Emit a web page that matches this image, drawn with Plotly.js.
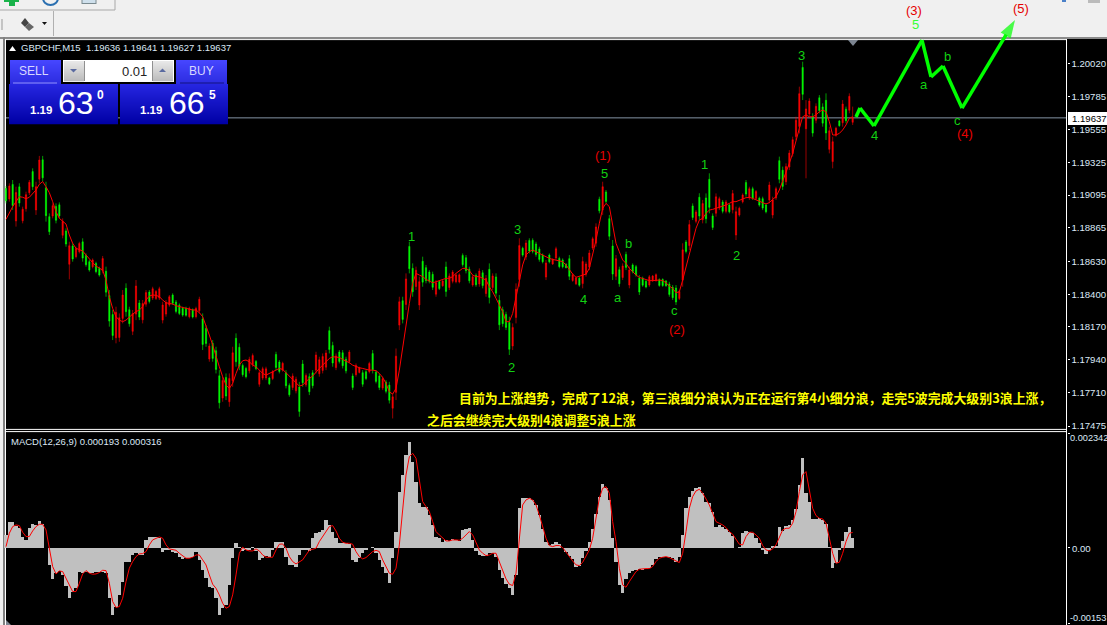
<!DOCTYPE html>
<html><head><meta charset="utf-8">
<script src="https://cdn.plot.ly/plotly-3.0.1.min.js"></script>
<style>html,body{margin:0;padding:0;background:#000;overflow:hidden}#chart{width:1107px;height:625px}</style>
</head><body><div id="chart"></div>
<script>
// All price series are in points above 1.17000 (1 point = 0.00001).
const priceBase = 1.17;
const openPts = [
2141,2068,2170,1914,2153,1915,2000,2112,2260,1991,2207,2343,2147,1944,1948,2016,2027,1813,1843,1610,
1738,1663,1698,1767,1672,1628,1592,1616,1582,1564,1561,1390,1257,1094,1096,1230,1441,1291,1139,1260,
1338,1220,1330,1415,1373,1370,1373,1218,1260,1324,1394,1345,1323,1301,1302,1242,1290,1242,1283,1226,
1160,945,1055,1003,827,671,816,645,792,1090,1027,900,879,862,905,927,768,811,812,812,
808,977,924,866,848,760,745,722,748,910,764,821,848,867,842,865,888,1144,1040,885,
994,989,943,928,826,835,851,849,856,856,983,853,826,741,783,762,600,711,1183,1354,
1328,1735,1581,1454,1324,1631,1586,1555,1539,1400,1489,1459,1591,1447,1490,1487,1486,1672,1656,1575,
1464,1532,1471,1550,1405,1574,1447,1521,1357,1291,1258,1202,1036,1237,1503,1722,1661,1776,1778,1752,
1717,1675,1520,1675,1612,1654,1651,1640,1611,1649,1496,1473,1512,1474,1539,1590,1724,1758,2066,1991,
2117,1930,1738,1525,1572,1517,1679,1464,1605,1593,1513,1512,1490,1464,1494,1496,1502,1503,1492,1471,
1448,1443,1370,1498,1766,1741,2019,1911,2080,1922,2075,2206,1949,1968,2004,2047,1981,2026,1992,1815,
1955,2048,2183,2075,2140,2072,2073,2070,2026,2060,1955,2075,2337,2270,2189,2292,2386,2506,2577,2991,
2560,2664,2644,2620,2778,2714,2760,2416,2330,2515,2615,2603,2698,2690,2606];
const highPts = [
2159,2178,2201,2154,2178,2014,2119,2201,2283,2189,2370,2370,2189,1967,2037,2037,2044,1932,1862,1768,
1757,1733,1768,1792,1686,1640,1651,1628,1593,1668,1593,1429,1289,1312,1265,1429,1476,1312,1289,1499,
1359,1359,1429,1429,1452,1429,1452,1347,1359,1394,1406,1359,1335,1312,1312,1312,1300,1312,1382,1265,
1183,1055,1078,1031,867,821,844,844,1031,1125,1055,914,891,961,984,938,867,891,891,821,
867,996,938,926,867,774,844,821,785,938,844,844,867,996,961,984,1008,1172,1066,984,
1008,1008,961,1008,844,914,891,867,867,926,1008,867,844,821,797,785,704,1019,1382,1382,
1546,1768,1616,1593,1523,1663,1605,1569,1558,1499,1499,1499,1628,1546,1569,1546,1546,1686,1675,1593,
1534,1546,1581,1569,1534,1616,1546,1546,1394,1312,1277,1242,1195,1476,1792,1733,1780,1792,1792,1768,
1733,1686,1640,1686,1651,1733,1663,1651,1616,1675,1546,1523,1523,1663,1628,1710,1803,1897,2084,2189,
2131,1956,1780,1675,1593,1616,1698,1593,1616,1605,1534,1523,1499,1534,1534,1546,1511,1511,1499,1487,
1464,1464,1429,1757,1780,1920,2037,1991,2108,2061,2107,2248,1967,2107,2084,2061,2061,2037,2131,2014,
2014,2107,2201,2154,2154,2131,2084,2084,2037,2189,2084,2154,2365,2295,2318,2411,2505,2645,2856,3031,
2762,2774,2669,2739,2797,2739,2809,2575,2505,2575,2622,2762,2716,2809,2716];
const lowPts = [
2037,2049,1991,1874,2014,1897,1979,2096,2131,1956,2178,2189,1909,1815,1932,1897,1932,1792,1733,1504,
1628,1651,1686,1628,1593,1558,1581,1546,1523,1546,1382,1172,1078,1055,1066,1195,1242,1172,1113,1218,
1218,1195,1312,1335,1359,1359,1359,1195,1242,1312,1324,1265,1253,1242,1242,1230,1230,1230,1265,1008,
1031,926,926,844,598,645,657,610,750,891,867,821,809,844,891,867,750,797,797,762,
797,867,844,856,739,680,727,704,540,750,750,692,739,844,821,844,867,984,891,867,
914,879,844,914,727,821,844,750,797,844,844,774,727,727,704,633,528,657,1148,1195,
1289,1546,1382,1429,1289,1452,1476,1476,1429,1382,1429,1452,1382,1429,1476,1476,1476,1593,1546,1476,
1452,1452,1452,1441,1382,1335,1429,1382,1148,1172,1148,973,1008,1195,1452,1663,1640,1686,1686,1663,
1628,1616,1499,1616,1605,1640,1581,1581,1581,1499,1487,1464,1452,1441,1523,1569,1710,1733,1967,1956,
2037,1780,1499,1499,1452,1499,1569,1441,1546,1523,1394,1452,1441,1452,1487,1487,1452,1452,1452,1382,
1359,1324,1359,1452,1686,1710,1920,1897,1920,1897,1897,1967,1850,1944,1990,1967,1967,1967,1967,1780,
1944,2037,2084,2061,2061,2061,2014,1990,1967,2037,1932,2061,2178,2131,2166,2271,2365,2482,2528,2762,
2213,2645,2505,2599,2669,2575,2482,2388,2283,2505,2575,2575,2599,2669,2587];
const closePts = [
2055,2159,2022,2114,2039,1996,2098,2185,2154,2154,2341,2216,1951,1838,2021,1918,1949,1911,1752,1740,
1647,1721,1756,1653,1607,1570,1640,1558,1534,1650,1414,1211,1110,1273,1235,1394,1277,1193,1263,1457,
1239,1334,1411,1349,1438,1419,1438,1324,1341,1382,1336,1279,1265,1253,1252,1300,1240,1300,1364,1047,
1054,1036,949,872,638,795,685,809,989,926,895,835,821,943,970,878,849,877,876,771,
856,886,858,915,758,694,826,803,577,778,830,715,758,973,940,963,987,1012,917,966,
928,898,862,994,745,900,884,768,808,914,869,788,745,807,718,656,680,965,1347,1223,
1507,1579,1417,1568,1488,1484,1495,1490,1448,1481,1439,1492,1419,1528,1555,1535,1536,1607,1565,1494,
1522,1466,1562,1460,1511,1377,1528,1407,1185,1193,1167,1013,1167,1434,1741,1674,1759,1702,1700,1679,
1644,1627,1619,1627,1644,1719,1593,1592,1586,1525,1537,1514,1463,1630,1612,1689,1789,1872,1985,2154,
2051,1806,1541,1649,1473,1598,1588,1570,1557,1535,1415,1463,1450,1522,1527,1537,1461,1460,1459,1398,
1375,1345,1419,1711,1700,1888,1938,1977,1948,2036,1929,2009,1868,2083,2070,1981,2047,1978,2106,1979,
2003,2096,2102,2140,2075,2120,2025,2004,1978,2166,2061,2140,2206,2156,2295,2390,2484,2620,2807,2802,
2700,2755,2530,2718,2688,2600,2531,2547,2470,2565,2582,2734,2617,2788,2637];
const maPts = [
1925,1972,2014,2049,2084,2080,2070,2080,2108,2131,2171,2190,2154,2112,2049,1979,1932,1913,1892,1815,
1757,1722,1714,1703,1675,1644,1621,1597,1581,1569,1499,1382,1300,1242,1218,1207,1218,1242,1260,1277,
1289,1312,1359,1387,1394,1392,1382,1359,1340,1335,1331,1319,1312,1305,1298,1293,1289,1289,1270,1242,
1183,1113,1043,961,891,821,762,739,774,844,902,933,938,926,902,891,867,844,832,844,
856,867,879,872,849,821,797,774,755,762,786,809,825,856,879,902,926,949,961,961,
956,942,933,919,902,891,884,879,872,867,867,863,844,816,774,715,699,739,867,1031,
1172,1335,1476,1546,1534,1523,1504,1490,1480,1487,1494,1499,1511,1511,1523,1546,1565,1581,1581,1565,
1534,1523,1523,1511,1499,1452,1417,1371,1324,1277,1207,1207,1265,1382,1499,1605,1675,1698,1710,1698,
1686,1675,1663,1651,1644,1640,1635,1628,1605,1569,1541,1518,1527,1534,1541,1581,1675,1780,1897,2002,
2037,2014,1885,1757,1698,1640,1616,1581,1558,1534,1518,1511,1499,1495,1495,1499,1499,1495,1480,1457,
1441,1410,1417,1499,1593,1686,1780,1862,1920,1932,1967,1990,1995,2002,2009,2019,2026,2037,2049,2049,
2061,2068,2077,2079,2072,2061,2049,2042,2033,2042,2065,2084,2131,2189,2248,2318,2388,2482,2563,2645,
2657,2645,2645,2657,2680,2692,2680,2610,2517,2517,2528,2552,2587,2634,2645];
// MACD in millionths.
const macdHist = [
265,536,536,448,401,231,163,401,489,469,557,482,-7,-346,-631,-516,-462,-550,-767,-1025,
-889,-822,-482,-516,-482,-516,-516,-496,-482,-482,-516,-1025,-1365,-1195,-957,-686,-292,-278,-143,-109,
-143,-143,163,231,231,231,197,-75,-41,-41,-75,-109,-177,-231,-210,-210,-177,-75,-244,-448,
-618,-788,-821,-1025,-1365,-1229,-1161,-754,-210,95,27,-61,-41,-41,27,-61,-244,-210,-163,-177,
-41,115,115,115,-177,-346,-346,-380,-143,-41,-41,-61,197,299,333,367,570,469,333,197,
95,95,95,75,-244,-278,-210,-109,-41,-7,27,-109,-244,-380,-516,-720,-210,333,1148,1487,
1894,2166,1759,1351,910,842,842,672,469,231,210,
129,163,143,183,163,143,367,387,401,163,-61,-143,-156,-163,-109,-102,-177,-448,-618,-733,
-822,-957,-550,808,1025,1012,1025,985,876,672,387,129,61,88,115,75,7,-88,-163,-231,
-380,-360,-210,-61,129,387,686,1046,1297,1229,978,197,-278,-754,-923,-631,-502,-469,-441,-421,
-441,-435,-401,-346,-224,-190,-177,-177,-177,-210,-292,-177,265,808,1046,1161,1229,1249,1114,944,
910,727,435,469,435,387,333,251,7,27,299,346,333,306,210,95,-41,-129,-41,41,
48,435,346,455,469,570,794,1283,1827,1114,944,591,591,604,570,482,27,-414,-312,-41,
143,319,421,193];
const macdSignal = [
27,299,435,469,455,319,231,231,346,435,482,482,367,27,-380,-530,-469,-482,-604,-754,
-889,-889,-720,-530,-462,-516,-536,-530,-502,-455,-462,-720,-1093,-1215,-1195,-1025,-686,-414,-278,-177,
-122,-115,-75,61,163,197,224,197,61,-20,-34,-48,-109,-156,-210,-210,-190,-143,-143,-244,
-346,-550,-740,-822,-957,-1127,-1229,-1195,-957,-550,-109,14,-41,-61,-61,-20,-61,-143,-190,-190,
-190,-41,75,81,-7,-177,-278,-326,-292,-244,-143,-48,-27,-7,129,231,333,435,455,346,
197,115,95,95,75,-75,-177,-224,-197,-143,-75,-48,-75,-244,-380,-516,-536,-414,61,808,
1487,1860,1928,1827,1351,944,842,740,536,333,265,
197,143,143,163,163,156,197,265,333,265,115,-41,-109,-156,-143,-109,-109,-278,-482,-631,
-740,-767,-516,265,876,978,1012,978,876,672,435,197,48,27,48,48,7,-88,-163,-265,
-346,-360,-292,-177,-41,197,604,1012,1216,1249,1114,536,129,-414,-754,-801,-686,-584,-482,-434,
-421,-421,-421,-380,-278,-210,-190,-177,-197,-224,-265,-299,-109,333,808,1046,1161,1195,1114,998,
876,706,536,502,469,414,333,279,163,75,61,231,319,319,265,197,48,-41,-61,-20,
61,231,367,401,401,503,740,1148,1487,1555,1148,808,658,604,591,503,197,-109,-312,-292,
-109,129,299,316];
// Hand-drawn forecast path.
const forecastBar = [255,256.2,260.4,274.8,277.5,281.1,286.8,302.7];
const forecastPts = [2643,2706,2580,3183,2924,3001,2706,3324];
// Wave labels.
const waveText  = ['1','2','3','4','5','(1)','a','b','c','(2)','1','2','3','4','5','(3)','a','b','c','(4)','(5)'];
const waveBar   = [121.5,151.5,153.3,173.1,179.4,179.1,183.6,186.6,200.4,201.3,209.4,219,238.5,260.4,272.7,272.4,275.4,282.3,285.3,287.7,304.5];
const wavePts   = [1808,889,1857,1366,2250,2376,1380,1759,1282,1155,2313,1668,3078,2510,3289,3387,2868,3071,2622,2524,3401];
const waveColor = ['g','g','g','g','g','r','g','g','g','r','g','g','g','g','b','r','g','g','g','r','r'];
// Axis labels.
const priceTicks = ['1.20020','1.19785','1.19555','1.19325','1.19095','1.18865','1.18630','1.18400','1.18170','1.17940','1.17710','1.17475'];
const lastPrice = '1.19637';
const headerText = 'GBPCHF,M15  1.19636 1.19641 1.19627 1.19637';
const macdText = 'MACD(12,26,9) 0.000193 0.000316';
const noteLine1 = '目前为上涨趋势，完成了12浪，第三浪细分浪认为正在运行第4小细分浪，走完5波完成大级别3浪上涨，';
const noteLine2 = '之后会继续完大级别4浪调整5浪上涨';

const W=1107,H=625;
const X=x=>x/W, Y=y=>1-y/H;
const price=p=>priceBase+p/1e5;
const bars=closePts.map((_,i)=>i);
const shapes=[], ann=[];
function rect(x0,y0,x1,y1,c,layer){shapes.push({type:'rect',xref:'paper',yref:'paper',x0:X(x0),x1:X(x1),y0:Y(y0),y1:Y(y1),fillcolor:c,line:{width:0},layer:layer||'below'});}
function hline(x0,x1,y,c,w,layer){shapes.push({type:'line',xref:'paper',yref:'paper',x0:X(x0),x1:X(x1),y0:Y(y),y1:Y(y),line:{color:c,width:w||1},layer:layer||'below'});}
function vline(x,y0,y1,c,w,layer){shapes.push({type:'line',xref:'paper',yref:'paper',x0:X(x),x1:X(x),y0:Y(y0),y1:Y(y1),line:{color:c,width:w||1},layer:layer||'below'});}
function poly(pts,c,layer){shapes.push({type:'path',xref:'paper',yref:'paper',path:'M'+pts.map(p=>X(p[0])+','+Y(p[1])).join('L')+'Z',fillcolor:c,line:{width:0},layer:layer||'above'});}
function lerp(a,b,t){return Math.round(a+(b-a)*t);}
function grad(x0,y0,x1,y1,c0,c1){const n=Math.max(1,Math.round(y1-y0));for(let k=0;k<n;k++){const t=k/(n-1||1);const col='rgb('+lerp(c0[0],c1[0],t)+','+lerp(c0[1],c1[1],t)+','+lerp(c0[2],c1[2],t)+')';rect(x0,y0+(y1-y0)*k/n,x1,y0+(y1-y0)*(k+1)/n+.3,col,'above');}}
function txt(x,y,t,size,color,anchor,extra){ann.push(Object.assign({xref:'paper',yref:'paper',x:X(x),y:Y(y),text:t,showarrow:false,xanchor:anchor||'left',yanchor:'middle',borderpad:0,font:{family:'"Liberation Sans",Arial,sans-serif',size:size,color:color}},extra||{}));}

// Window chrome
rect(0,0,W,37,'#f0f0f0');
rect(0,37,W,39,'#8a8a8a');
rect(0,39,5,H,'#f0f0f0');
rect(3,37,5,H,'#808080');
hline(0,115,10,'#a8a8a8',1);
vline(115,0,10,'#a8a8a8',1);
vline(53.5,11,36,'#b0b0b0',1);
rect(9,0,15,6,'#19b34a'); rect(4,0,19,2,'#19b34a');
shapes.push({type:'circle',xref:'paper',yref:'paper',x0:X(43),x1:X(58),y0:Y(5),y1:Y(-9),line:{color:'#2a6fb0',width:2},fillcolor:'rgba(0,0,0,0)',layer:'below'});
rect(82,0,96,3,'#cfe0ec'); vline(82,0,4,'#7a8a90',1); vline(96,0,4,'#7a8a90',1); hline(82,96,3.5,'#7a8a90',1);
poly([[21,23],[25,18],[29,23],[25,27]],'#444');
poly([[25,27],[29,23],[34,27],[29,31]],'#666');
poly([[42,22],[47,22],[44.5,25]],'#111');
vline(2,19,30,'#999',1);
rect(1062,0,1066,2,'#4a80c8'); rect(1088,0,1100,3,'#bbb');

// Chart frame
hline(5,1066,39.6,'#ffffff',1);
hline(5,1066,429.4,'#ffffff',1);
hline(5,1066,431.6,'#ffffff',1);
vline(5.5,39,H,'#ffffff',1);
vline(1066.5,39,H,'#ffffff',1);

// Current price line and tag
shapes.push({type:'line',xref:'x',yref:'y',x0:0,x1:(1066-6)*.3,y0:price(2637),y1:price(2637),line:{color:'#8494a4',width:1},layer:'below'});
rect(1068,112,W,125,'#ffffff');
txt(1071,118.5,lastPrice,9.6,'#000');

// Small markers
poly([[848,40],[858,40],[853,46]],'#7d8591');
poly([[6,620],[6,625],[11,625]],'#7d8591');
poly([[9,51],[16,51],[12.5,46]],'#ffffff');

// Trade panel
grad(10,60,61,84,[70,70,255],[44,44,224]);
grad(176,60,227,84,[70,70,255],[44,44,224]);
hline(13,57,83,'#9090ff',1,'above');
hline(180,224,83,'#101080',1,'above');
grad(9,84,118,124,[38,38,225],[0,0,165]);
grad(120,84,228,124,[38,38,225],[0,0,165]);
rect(63,60,174,82,'#ffffff','above');
grad(64,61,84,81,[232,232,232],[188,188,188]);
grad(153,61,173,81,[232,232,232],[188,188,188]);
vline(84.5,61,81,'#909090',1,'above');
vline(152.5,61,81,'#909090',1,'above');
poly([[70,69],[77,69],[73.5,72.5]],'#5a6aa0');
poly([[159,72],[166,72],[162.5,68.5]],'#5a6aa0');
txt(34,71,'SELL',12,'#d8d8ff','center');
txt(201,71,'BUY',12,'#d8d8ff','center');
txt(148,71,'0.01',13,'#222','right');
txt(29,110,'<b>1.19</b>',11.5,'#ffffff');
txt(57,103,'63',32,'#ffffff');
txt(96,95,'<b>0</b>',12,'#ffffff');
txt(139,110,'<b>1.19</b>',11.5,'#ffffff');
txt(168,103,'66',32,'#ffffff');
txt(208,95,'<b>5</b>',12,'#ffffff');

// Text on chart
txt(20,48,headerText,9.5,'#dce8f6');
txt(10,441,macdText,9.5,'#dce8f6');
const cjk='"Noto Sans CJK SC","Liberation Sans",sans-serif';
txt(458,397.5,'<b>'+noteLine1+'</b>',12.9,'#ffff00','left',{font:{family:cjk,size:12.9,color:'#ffff00'}});
txt(425.5,419.5,'<b>'+noteLine2+'</b>',12.9,'#ffff00','left',{font:{family:cjk,size:12.9,color:'#ffff00'}});
txt(1069,438,'0.002342',9.2,'#dce8f6');
txt(1071,548.5,'0.00',9.6,'#dce8f6');
txt(1069,618,'-0.00153',9.2,'#dce8f6');

// Wave labels, positioned on the data axes
const waveColors={g:'#12d012',r:'#e60000',b:'#35ff35'};
waveText.forEach((t,i)=>ann.push({xref:'x',yref:'y',x:waveBar[i],y:price(wavePts[i]),text:t,showarrow:false,xanchor:'center',yanchor:'middle',font:{family:'"Liberation Sans",Arial,sans-serif',size:13,color:waveColors[waveColor[i]]}}));

const traces=[
 {type:'candlestick',x:bars,open:openPts.map(price),high:highPts.map(price),low:lowPts.map(price),close:closePts.map(price),
  increasing:{line:{color:'#ff0000',width:0.6},fillcolor:'#ff0000'},
  decreasing:{line:{color:'#00ff00',width:0.6},fillcolor:'#00ff00'},
  whiskerwidth:0,xaxis:'x',yaxis:'y',hoverinfo:'skip'},
 {type:'scatter',mode:'lines',x:bars,y:maPts.map(price),line:{color:'#ff0000',width:1},xaxis:'x',yaxis:'y',hoverinfo:'skip'},
 {type:'scatter',mode:'lines+markers',x:forecastBar,y:forecastPts.map(price),line:{color:'#00ff00',width:3.5},
  marker:{symbol:'arrow',angleref:'previous',color:'#00ff00',size:forecastBar.map((_,i)=>i===forecastBar.length-1?19:0),line:{width:0}},
  xaxis:'x',yaxis:'y',cliponaxis:false,hoverinfo:'skip'},
 {type:'bar',x:bars,y:macdHist.map(v=>v/1e6),marker:{color:'#c0c0c0',line:{width:0}},width:1,xaxis:'x',yaxis:'y2',hoverinfo:'skip'},
 {type:'scatter',mode:'lines',x:bars,y:macdSignal.map(v=>v/1e6),line:{color:'#ff0000',width:1},xaxis:'x',yaxis:'y2',hoverinfo:'skip'}
];
const axisFont={family:'"Liberation Sans",Arial,sans-serif',size:9.6,color:'#dce8f6'};
const layout={
 width:W,height:H,margin:{l:0,r:0,t:0,b:0,pad:0},paper_bgcolor:'#000',plot_bgcolor:'rgba(0,0,0,0)',showlegend:false,
 bargap:0,boxgap:0.5,hovermode:false,
 xaxis:{domain:[0,1],range:[(0-6)*.3,(W-6)*.3],visible:false,fixedrange:true,rangeslider:{visible:false}},
 yaxis:{domain:[Y(429),1],range:[price(454),price(3464)],anchor:'free',position:X(1066.5),side:'right',
  tickmode:'array',tickvals:priceTicks.map(Number),ticktext:priceTicks,ticks:'outside',ticklen:2,tickcolor:'#fff',tickwidth:1,
  tickfont:axisFont,showgrid:false,zeroline:false,showline:false,fixedrange:true,automargin:false},
 yaxis2:{domain:[Y(623),Y(433)],range:[-0.00153,0.002342],anchor:'free',position:X(1066.5),side:'right',
  tickmode:'array',tickvals:[-0.00153,0,0.002342],ticktext:['','',''],ticks:'outside',ticklen:2,tickcolor:'#fff',tickwidth:1,
  showgrid:false,zeroline:false,showline:false,fixedrange:true,automargin:false},
 shapes:shapes,annotations:ann
};
Plotly.newPlot('chart',traces,layout,{staticPlot:true,displayModeBar:false});
</script></body></html>
